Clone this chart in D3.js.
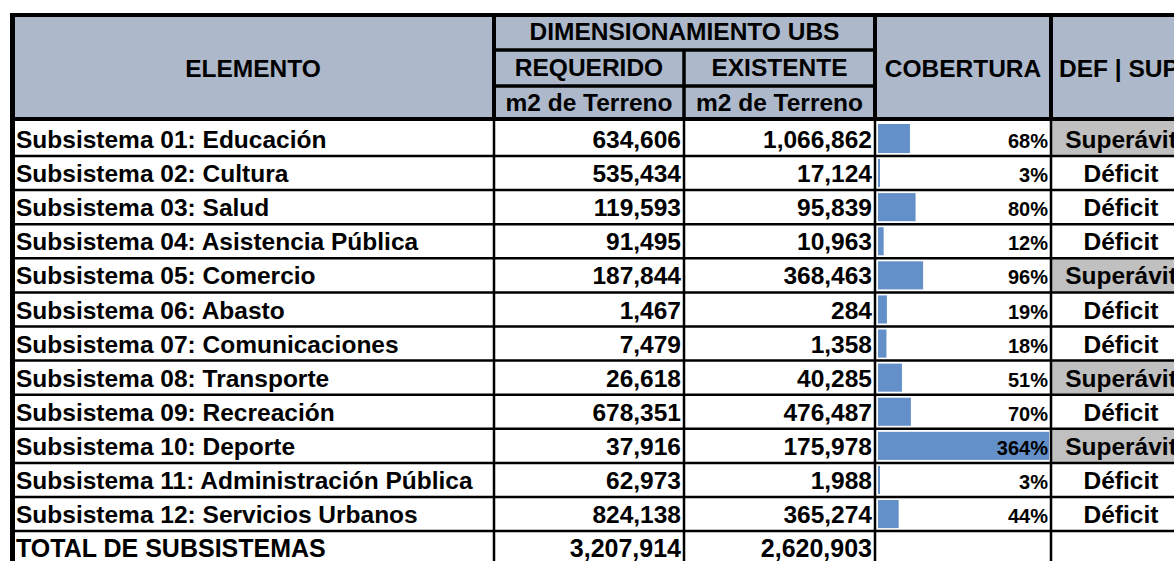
<html>
  <head>
    <meta charset="utf-8">
    <title>Dimensionamiento UBS</title>
    <style>
      body { margin: 0; background: #fff; }
      svg text { font-family: "Liberation Sans", Arial, sans-serif; font-weight: bold; fill: #000; }
    </style>
    <script src="https://d3js.org/d3.v7.min.js"></script>
  </head>
  <body>
    <svg id="tabla" width="1174" height="561"></svg>
    <script>
      const elementos = ["Subsistema 01: Educación", "Subsistema 02: Cultura", "Subsistema 03: Salud",
                         "Subsistema 04: Asistencia Pública", "Subsistema 05: Comercio", "Subsistema 06: Abasto",
                         "Subsistema 07: Comunicaciones", "Subsistema 08: Transporte", "Subsistema 09: Recreación",
                         "Subsistema 10: Deporte", "Subsistema 11: Administración Pública", "Subsistema 12: Servicios Urbanos"]
      const requerido = [634606, 535434, 119593, 91495, 187844, 1467, 7479, 26618, 678351, 37916, 62973, 824138]
      const existente = [1066862, 17124, 95839, 10963, 368463, 284, 1358, 40285, 476487, 175978, 1988, 365274]
      const cobertura = [68, 3, 80, 12, 96, 19, 18, 51, 70, 364, 3, 44]
      const estado = ["Superávit", "Déficit", "Déficit", "Déficit", "Superávit", "Déficit",
                      "Déficit", "Superávit", "Déficit", "Superávit", "Déficit", "Déficit"]
      const totalLabel = "TOTAL DE SUBSISTEMAS"
      const totalRequerido = 3207914
      const totalExistente = 2620903

      const svg = d3.select("#tabla")
      const W = 1174, H = 561
      const fmt = d3.format(",")

      // columnas: bordes
      const xLeft = 12, xReq = 494, xExi = 684, xCob = 875, xDef = 1051
      const headTop = 15, headBottom = 119

      // lineas de fila (1..13)
      const yLine = d3.scaleLinear().domain([1, 12]).range([156, 531.1])
      const nRows = elementos.length
      const rowTop = i => i === 0 ? 121 : yLine(i)
      const rowBot = i => i < nRows ? yLine(i + 1) : H + 6

      // escala de barras de cobertura
      const xBar = d3.scaleLinear().domain([0, d3.max(cobertura)]).range([0, 171])

      // fondo de encabezado
      svg.append("rect").attr("x", xLeft).attr("y", headTop).attr("width", W - xLeft)
         .attr("height", headBottom - headTop).attr("fill", "#adb9ca")

      // celdas grises de superavit
      svg.selectAll("rect.sup")
         .data(estado.map((d, i) => ({d, i})).filter(o => o.d === "Superávit"))
         .join("rect")
         .attr("class", "sup")
         .attr("x", xDef).attr("y", o => rowTop(o.i))
         .attr("width", W - xDef).attr("height", o => rowBot(o.i) - rowTop(o.i))
         .attr("fill", "#c0c0c0")

      // barras
      svg.selectAll("rect.bar")
         .data(cobertura)
         .join("rect")
         .attr("class", "bar")
         .attr("x", xCob + 3)
         .attr("y", (d, i) => rowTop(i) + 3)
         .attr("width", d => Math.max(2, xBar(d)))
         .attr("height", (d, i) => rowBot(i) - rowTop(i) - 6)
         .attr("fill", "#6490c9")

      // encabezados
      const head = svg.append("g").style("font-size", "24.5px")
      head.append("text").attr("x", (xLeft + xReq) / 2).attr("y", 77).attr("text-anchor", "middle").text("ELEMENTO")
      head.append("text").attr("x", (xReq + xCob) / 2).attr("y", 40).attr("text-anchor", "middle").text("DIMENSIONAMIENTO UBS")
      head.append("text").attr("x", (xReq + xExi) / 2).attr("y", 76).attr("text-anchor", "middle").text("REQUERIDO")
      head.append("text").attr("x", (xExi + xCob) / 2).attr("y", 76).attr("text-anchor", "middle").text("EXISTENTE")
      head.append("text").attr("x", (xReq + xExi) / 2).attr("y", 111).attr("text-anchor", "middle").text("m2 de Terreno")
      head.append("text").attr("x", (xExi + xCob) / 2).attr("y", 111).attr("text-anchor", "middle").text("m2 de Terreno")
      head.append("text").attr("x", (xCob + xDef) / 2).attr("y", 77).attr("text-anchor", "middle").text("COBERTURA")
      head.append("text").attr("x", 1059).attr("y", 77).text("DEF | SUP")

      // filas
      const body = svg.append("g").style("font-size", "24.5px")
      const rows = body.selectAll("g.row")
         .data(elementos)
         .join("g")
         .attr("class", "row")
         .attr("transform", (d, i) => `translate(0,${rowBot(i) - 8})`)
      rows.append("text").attr("x", 16).text(d => d)
      rows.append("text").attr("x", xExi - 3).attr("text-anchor", "end").text((d, i) => fmt(requerido[i]))
      rows.append("text").attr("x", xCob - 3).attr("text-anchor", "end").text((d, i) => fmt(existente[i]))
      rows.append("text").attr("x", xDef - 3).attr("text-anchor", "end").style("font-size", "20px")
          .text((d, i) => cobertura[i] + "%")
      rows.append("text").attr("x", 1121).attr("text-anchor", "middle").text((d, i) => estado[i])

      // total
      const tot = body.append("g").attr("transform", `translate(0,557)`).style("font-size", "25px")
      tot.append("text").attr("x", 16).text(totalLabel)
      tot.append("text").attr("x", xExi - 3).attr("text-anchor", "end").text(fmt(totalRequerido))
      tot.append("text").attr("x", xCob - 3).attr("text-anchor", "end").text(fmt(totalExistente))

      // lineas
      const lines = svg.append("g").attr("stroke", "#000")
      // horizontales de datos
      lines.selectAll("line.h")
         .data(d3.range(1, nRows + 1))
         .join("line")
         .attr("x1", xLeft).attr("x2", W)
         .attr("y1", k => yLine(k)).attr("y2", k => yLine(k))
         .attr("stroke-width", 2.5)
      // encabezado
      lines.append("line").attr("x1", xReq).attr("x2", xCob).attr("y1", 50).attr("y2", 50).attr("stroke-width", 3.5)
      lines.append("line").attr("x1", xReq).attr("x2", xCob).attr("y1", 86).attr("y2", 86).attr("stroke-width", 3.5)
      lines.append("line").attr("x1", xLeft).attr("x2", W).attr("y1", headBottom).attr("y2", headBottom).attr("stroke-width", 4)
      // verticales
      const vert = [[xReq, headTop, headBottom, 4], [xReq, headBottom, H, 2.5],
                    [xExi, 50, headBottom, 3.5], [xExi, headBottom, H, 2.5],
                    [xCob, headTop, headBottom, 4], [xCob, headBottom, H, 2.5],
                    [xDef, headTop, headBottom, 4], [xDef, headBottom, H, 2.5]]
      lines.selectAll("line.v")
         .data(vert)
         .join("line")
         .attr("x1", d => d[0]).attr("x2", d => d[0])
         .attr("y1", d => d[1]).attr("y2", d => d[2])
         .attr("stroke-width", d => d[3])
      // borde exterior
      lines.append("line").attr("x1", 10).attr("x2", W).attr("y1", headTop).attr("y2", headTop).attr("stroke-width", 4)
      lines.append("line").attr("x1", 12.5).attr("x2", 12.5).attr("y1", 13).attr("y2", H).attr("stroke-width", 5)
    </script>
  </body>
</html>
